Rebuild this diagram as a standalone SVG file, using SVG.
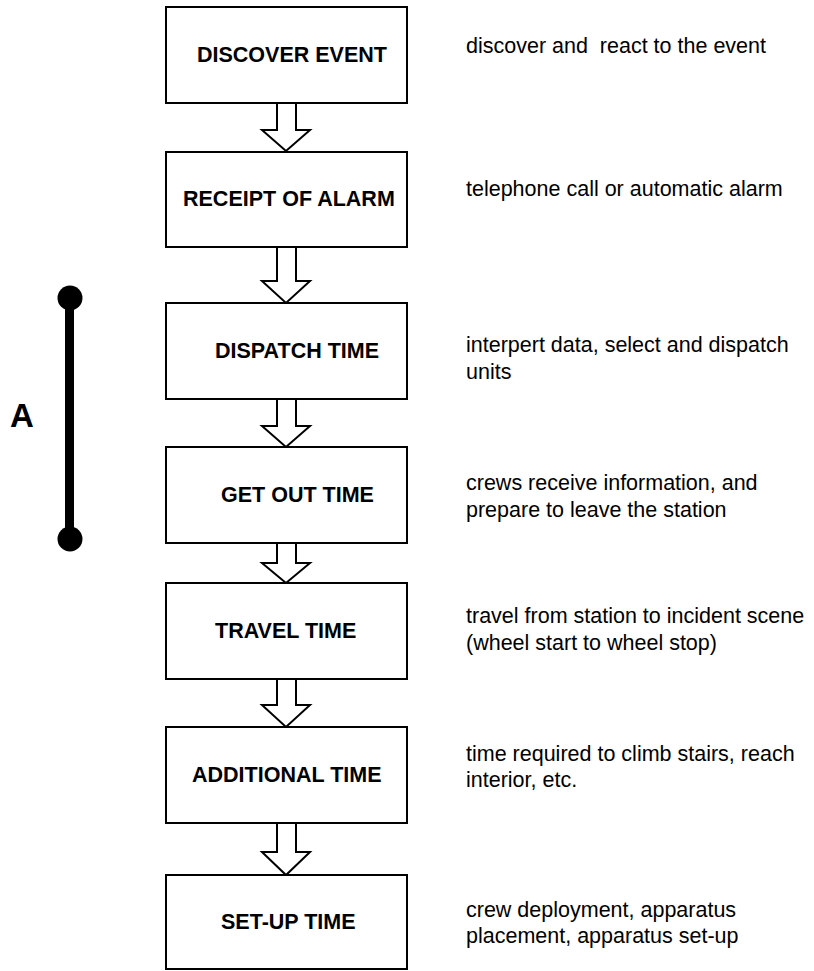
<svg xmlns="http://www.w3.org/2000/svg" width="814" height="971" viewBox="0 0 814 971">
  <style>
    .box { fill: #ffffff; stroke: #000000; stroke-width: 2; }
    .arrow { fill: #ffffff; stroke: #000000; stroke-width: 2; stroke-linejoin: miter; }
    .title { font-family: "Liberation Sans", Arial, sans-serif; font-weight: bold; font-size: 21.5px; fill: #000000; }
    .note { font-family: "Liberation Sans", Arial, sans-serif; font-size: 21.5px; fill: #000000; }
    .label { font-family: "Liberation Sans", Arial, sans-serif; font-weight: bold; font-size: 33px; fill: #000000; }
  </style>
  <rect width="814" height="971" fill="#ffffff"/>

  <!-- hollow down arrows between steps -->
  <g id="connectors">
    <polygon class="arrow" points="277,103 277,130 262,130 286,151 310,130 296,130 296,103"/>
    <polygon class="arrow" points="277,247 277,281 262,281 286,303 310,281 296,281 296,247"/>
    <polygon class="arrow" points="277,399 277,426 262,426 286,447 310,426 296,426 296,399"/>
    <polygon class="arrow" points="277,543 277,563 262,563 286,583 310,563 296,563 296,543"/>
    <polygon class="arrow" points="277,679 277,705 262,705 286,727 310,705 296,705 296,679"/>
    <polygon class="arrow" points="277,823 277,852 262,852 286,875 310,852 296,852 296,823"/>
  </g>

  <g id="step-discover">
    <rect class="box" x="166" y="7" width="241" height="96"/>
    <text class="title" x="197" y="62">DISCOVER EVENT</text>
    <text class="note" x="466" y="53" xml:space="preserve">discover and  react to the event</text>
  </g>

  <g id="step-receipt">
    <rect class="box" x="166" y="152" width="241" height="95"/>
    <text class="title" x="183" y="206">RECEIPT OF ALARM</text>
    <text class="note" x="466" y="196">telephone call or automatic alarm</text>
  </g>

  <g id="step-dispatch">
    <rect class="box" x="166" y="303" width="241" height="96"/>
    <text class="title" x="215" y="358">DISPATCH TIME</text>
    <text class="note" x="466" y="352">interpert data, select and dispatch</text>
    <text class="note" x="466" y="379">units</text>
  </g>

  <g id="step-getout">
    <rect class="box" x="166" y="447" width="241" height="96"/>
    <text class="title" x="221" y="502">GET OUT TIME</text>
    <text class="note" x="466" y="490">crews receive information, and</text>
    <text class="note" x="466" y="517">prepare to leave the station</text>
  </g>

  <g id="step-travel">
    <rect class="box" x="166" y="583" width="241" height="96"/>
    <text class="title" x="215" y="638">TRAVEL TIME</text>
    <text class="note" x="466" y="623">travel from station to incident scene</text>
    <text class="note" x="466" y="650">(wheel start to wheel stop)</text>
  </g>

  <g id="step-additional">
    <rect class="box" x="166" y="727" width="241" height="96"/>
    <text class="title" x="192" y="782">ADDITIONAL TIME</text>
    <text class="note" x="466" y="761">time required to climb stairs, reach</text>
    <text class="note" x="466" y="787">interior, etc.</text>
  </g>

  <g id="step-setup">
    <rect class="box" x="166" y="875" width="241" height="94"/>
    <text class="title" x="221" y="929">SET-UP TIME</text>
    <text class="note" x="466" y="917">crew deployment, apparatus</text>
    <text class="note" x="466" y="943">placement, apparatus set-up</text>
  </g>

  <!-- interval bar A spanning dispatch and get-out time -->
  <g id="interval-a">
    <line x1="69.5" y1="298" x2="69.5" y2="539" stroke="#000000" stroke-width="9"/>
    <circle cx="70" cy="298" r="12.5" fill="#000000"/>
    <circle cx="70" cy="539" r="12.5" fill="#000000"/>
    <text class="label" x="10" y="427">A</text>
  </g>
</svg>
